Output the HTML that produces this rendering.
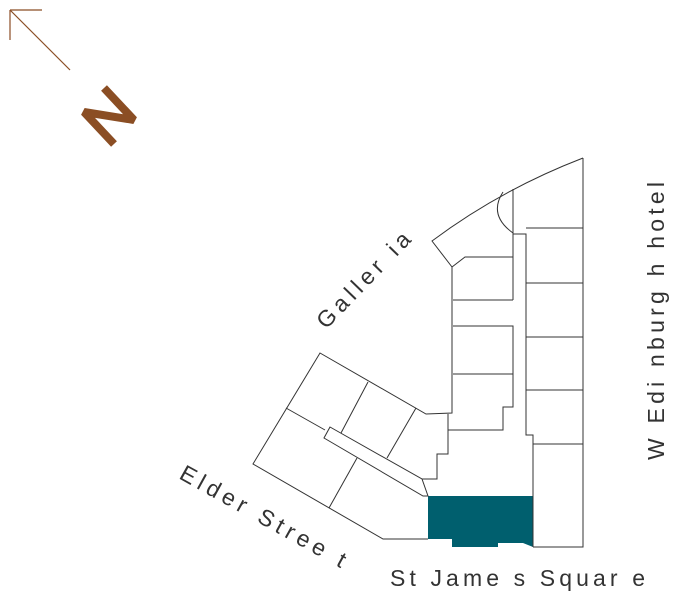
<!DOCTYPE html>
<html><head><style>html,body{margin:0;padding:0;background:#fff;}svg{display:block}</style></head>
<body>
<svg width="680" height="605" viewBox="0 0 680 605" xmlns="http://www.w3.org/2000/svg">
<g stroke="#8B4E24" fill="none">
<line x1="70" y1="70" x2="10" y2="10" stroke-width="1.2"/>
<line x1="10" y1="10" x2="42" y2="10" stroke-width="1.2"/>
<line x1="10" y1="10" x2="10" y2="40" stroke-width="1.2"/>
<polyline points="114,144 84,112 134,120 104,88" stroke-width="8" stroke-linejoin="bevel"/>
</g>
<polygon points="428,496 533,496 533,547 523,543 498,543 498,547 452,547 452,539 428,539" fill="#005F6E"/>
<g stroke="#333" stroke-width="1" fill="none">
<path d="M583,158 Q500,190 432,241 L452,267 L452,413 L426,414 L320,353 L253,464 L383,539 L428,539"/>
<path d="M583,158 L583,547 L533,547"/>
<path d="M503,192 Q488,215 513,233"/>
<polyline points="513,189 513,300"/>
<polyline points="513,234 526,234 526,435 533,435 533,547"/>
<line x1="526" y1="228" x2="583" y2="228"/>
<line x1="526" y1="283" x2="583" y2="283"/>
<line x1="526" y1="337" x2="583" y2="337"/>
<line x1="526" y1="390" x2="583" y2="390"/>
<line x1="533" y1="444" x2="583" y2="444"/>
<polyline points="452,267 465,257 513,257"/>
<line x1="453" y1="300" x2="513" y2="300"/>
<polyline points="453,326 513,326 513,407 503,407 503,430 448,430"/>
<line x1="453" y1="374" x2="513" y2="374"/>
<polyline points="448,414 448,454 437,454 437,479 422,479"/>
<line x1="286" y1="408" x2="325" y2="430"/>
<polygon points="330,427 324,438 423,496 428,496 422,479"/>
<line x1="368" y1="382" x2="341" y2="433"/>
<line x1="416" y1="408" x2="387" y2="458"/>
<line x1="357" y1="458" x2="329" y2="508"/>
</g>
<g font-family="'Liberation Sans', sans-serif" font-size="23" fill="#333">
<text transform="translate(326,330) rotate(-46)" textLength="124" lengthAdjust="spacing">Galler ia</text>
<text transform="translate(178,478) rotate(29)" textLength="186" lengthAdjust="spacing">Elder  Stree t</text>
<text x="390" y="586" textLength="255" lengthAdjust="spacing">St Jame  s Squar  e</text>
<text transform="translate(664,460) rotate(-90)" textLength="278" lengthAdjust="spacing">W Edi nburg h hotel</text>
</g>
</svg>
</body></html>
